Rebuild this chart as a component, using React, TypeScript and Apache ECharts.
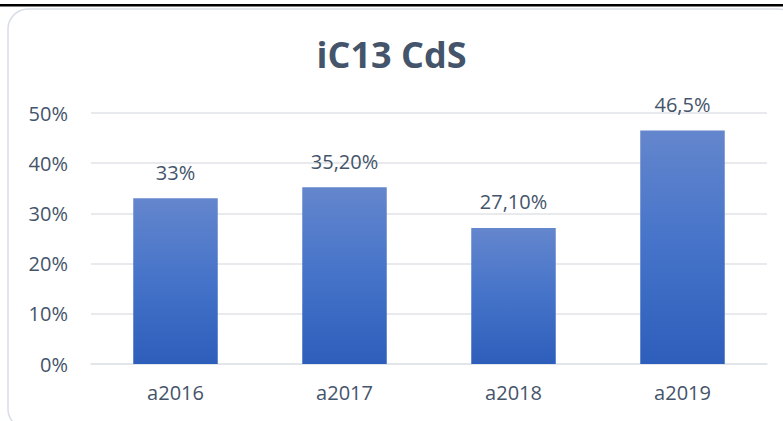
import React, { useEffect, useRef } from "react";
import * as echarts from "echarts";

const title = "iC13 CdS";
const categories = ["a2016", "a2017", "a2018", "a2019"];
const values = [33, 35.2, 27.1, 46.5];
const valueLabels = ["33%", "35,20%", "27,10%", "46,5%"];
const yTicks = [0, 10, 20, 30, 40, 50];

const TEXT = "#44546A";
const FONT = "'Open Sans', 'Noto Sans', sans-serif";

export default function App() {
  const ref = useRef<HTMLDivElement>(null);
  useEffect(() => {
    document.body.style.margin = "0";
    const chart = echarts.init(ref.current!, null, { renderer: "svg" });
    chart.setOption({
      animation: false,
      backgroundColor: "#ffffff",
      title: {
        text: title,
        left: "center",
        top: 31,
        textStyle: { color: TEXT, fontSize: 36, fontWeight: "bold", fontFamily: FONT },
      },
      graphic: [
        {
          type: "rect",
          shape: { x: 8, y: 9, width: 790, height: 420, r: 20 },
          style: { fill: "none", stroke: "#d9dde6", lineWidth: 1.5 },
          silent: true,
          z: -1,
        },
        {
          type: "rect",
          shape: { x: 0, y: 4, width: 783, height: 2.5 },
          style: { fill: "#000000" },
          silent: true,
        },
      ],
      grid: { left: 91, right: 16, top: 113, bottom: 57, containLabel: false },
      xAxis: {
        type: "category",
        data: categories,
        axisLine: { show: true, lineStyle: { color: "#e0e3e9", width: 1.5 } },
        axisTick: { show: false },
        axisLabel: { color: TEXT, fontSize: 20, fontFamily: FONT, margin: 18 },
      },
      yAxis: {
        type: "value",
        min: yTicks[0],
        max: yTicks[yTicks.length - 1],
        interval: 10,
        axisLine: { show: false },
        axisTick: { show: false },
        splitLine: { lineStyle: { color: "#e0e3e9", width: 1.5 } },
        axisLabel: {
          color: TEXT,
          fontSize: 20,
          fontFamily: FONT,
          margin: 23,
          formatter: (v: number) => `${v}%`,
        },
      },
      series: [
        {
          type: "bar",
          data: values,
          barWidth: "50%",
          itemStyle: {
            color: new echarts.graphic.LinearGradient(0, 0, 0, 1, [
              { offset: 0, color: "#6486CD" },
              { offset: 0.5, color: "#4573C9" },
              { offset: 1, color: "#2E5EBB" },
            ]),
          },
          label: {
            show: true,
            position: "top",
            distance: 16,
            color: TEXT,
            fontSize: 20,
            fontFamily: FONT,
            formatter: (p: any) => valueLabels[p.dataIndex],
          },
        },
      ],
    });
    return () => chart.dispose();
  }, []);
  return (
    <div
      ref={ref}
      style={{ position: "absolute", left: 0, top: 0, width: 783, height: 421 }}
    />
  );
}
